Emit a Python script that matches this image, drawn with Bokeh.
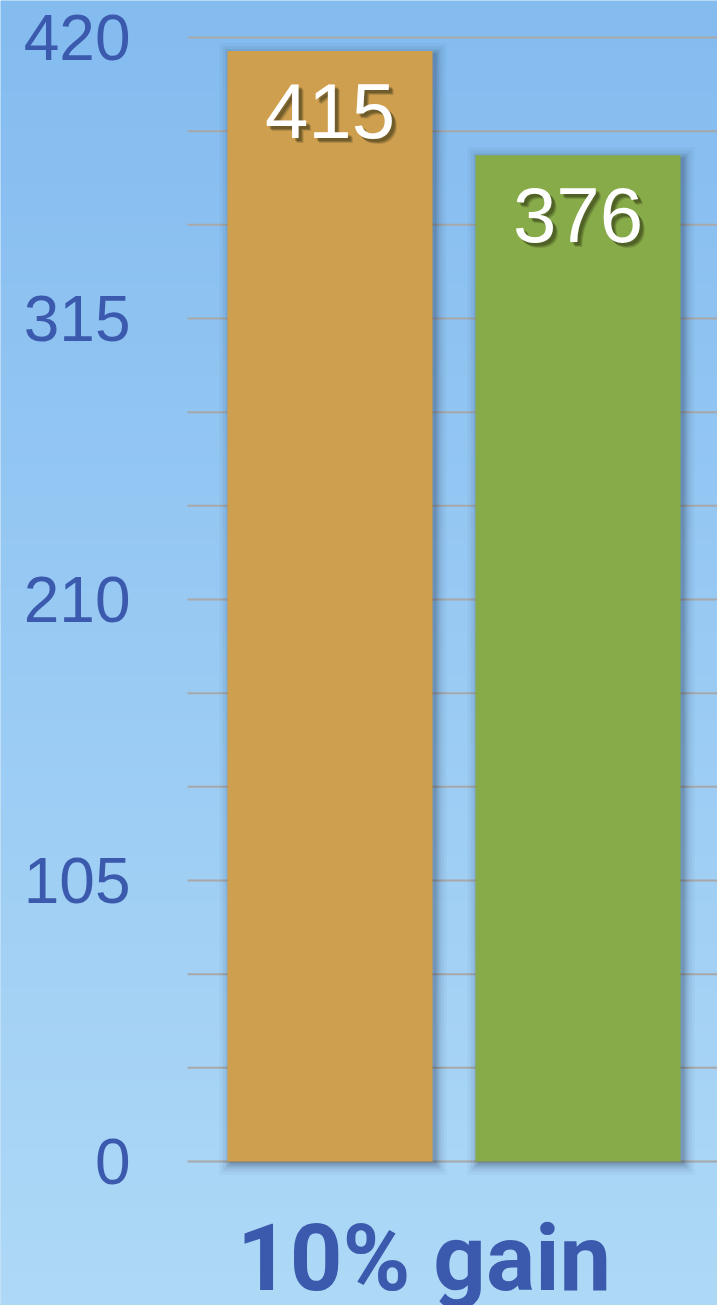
import numpy as np
from bokeh.plotting import figure
from bokeh.models import Range1d, LinearAxis, FixedTicker
from bokeh.core.properties import value
from bokeh.embed import file_html
from bokeh.resources import INLINE

# ---- data ----
series = ["Series A", "Series B"]
values = [415, 376]
colors = ["#cf9f50", "#86ab48"]
group_label = "10% gain"
y_tick_labels = [0, 105, 210, 315, 420]
grid_step = 35

# ---- layout (pixels) ----
W, H = 717, 1305
PX_PER_UNIT = 248.0
first_center_px = 329.5
axis_px = 187.0
zero_px, top_px = 1161.0, 37.0
ymax = 420.0
y_per_px = ymax / (zero_px - top_px)

x_start = -first_center_px / PX_PER_UNIT
x_end = x_start + W / PX_PER_UNIT
axis_x = x_start + axis_px / PX_PER_UNIT
y_end = zero_px * y_per_px
y_start = -(H - zero_px) * y_per_px

p = figure(width=W, height=H, x_range=Range1d(x_start, x_end), y_range=Range1d(y_start, y_end),
           output_backend="svg", toolbar_location=None, min_border=0,
           x_axis_location=None, y_axis_location=None)
p.outline_line_color = None
p.grid.visible = False
p.background_fill_color = "#98caf2"
p.border_fill_color = "#98caf2"

# background gradient
rows = 300
t = np.linspace(0, 1, rows)[:, None]  # 0 bottom -> 1 top
top_c = np.array([132, 188, 240])
bot_c = np.array([174, 217, 247])
cols = (bot_c + (top_c - bot_c) * t).astype(np.uint32)
img = np.empty((rows, 2), dtype=np.uint32)
view = img.view(dtype=np.uint8).reshape((rows, 2, 4))
view[:, :, 0] = cols[:, 0:1]
view[:, :, 1] = cols[:, 1:2]
view[:, :, 2] = cols[:, 2:3]
view[:, :, 3] = 255
p.image_rgba(image=[img], x=x_start, y=y_start, dw=x_end - x_start, dh=y_end - y_start)

# gridlines
grid_vals = np.arange(0, ymax + 1, grid_step)
p.segment(x0=[axis_x] * len(grid_vals), x1=[x_end] * len(grid_vals), y0=grid_vals, y1=grid_vals,
          line_color="#a8a8a8", line_width=2)

xs = list(range(len(series)))
bar_w = 205 / PX_PER_UNIT
src = dict(x=xs, top=values, color=colors, label=[str(v) for v in values])

# bar shadows (soft, slightly offset right/down)
for k, a in [(11, 0.04), (8, 0.06), (5, 0.08), (3, 0.1), (1, 0.12)]:
    p.vbar(x=[x + 3 / PX_PER_UNIT for x in xs],
           top=[v + (k - 3) * y_per_px for v in values],
           bottom=[-(k + 2) * y_per_px for _ in values],
           width=bar_w + 2 * k / PX_PER_UNIT, fill_color="#1c2c40", fill_alpha=a, line_color=None)

p.vbar(x="x", top="top", bottom=0, width=bar_w, fill_color="color", line_color=None, source=src)

# value labels with soft shadow
for dx, dy, a in [(5, 5, 0.18), (4, 4, 0.25), (3, 3, 0.3)]:
    p.text(x="x", y="top", text="label", source=src, x_offset=dx, y_offset=60 + dy,
           text_align="center", text_baseline="middle", text_font=value("Liberation Sans"),
           text_font_size="78px", text_color="#2a2a10", text_alpha=a)
p.text(x="x", y="top", text="label", source=src, x_offset=0, y_offset=60,
       text_align="center", text_baseline="middle", text_font=value("Liberation Sans"),
       text_font_size="78px", text_color="white")

# group label
p.text(x=[float(np.mean(xs))], y=[0], text=[group_label], x_offset=-30, y_offset=97,
       text_align="center", text_baseline="middle",
       text_font=value("Roboto"),
       text_font_style="bold", text_font_size="92px", text_color="#3b5aad")

# y axis
ax = LinearAxis(fixed_location=axis_x, ticker=FixedTicker(ticks=y_tick_labels))
ax.axis_line_color = None
ax.major_tick_out = 0
ax.major_tick_in = 0
ax.minor_tick_out = 0
ax.minor_tick_in = 0
ax.major_label_standoff = 57
ax.major_label_text_font = "Liberation Sans"
ax.major_label_text_font_size = "64px"
ax.major_label_text_color = "#3b5aad"
p.add_layout(ax, "left")

open("out.html", "w").write(file_html(p, INLINE))
